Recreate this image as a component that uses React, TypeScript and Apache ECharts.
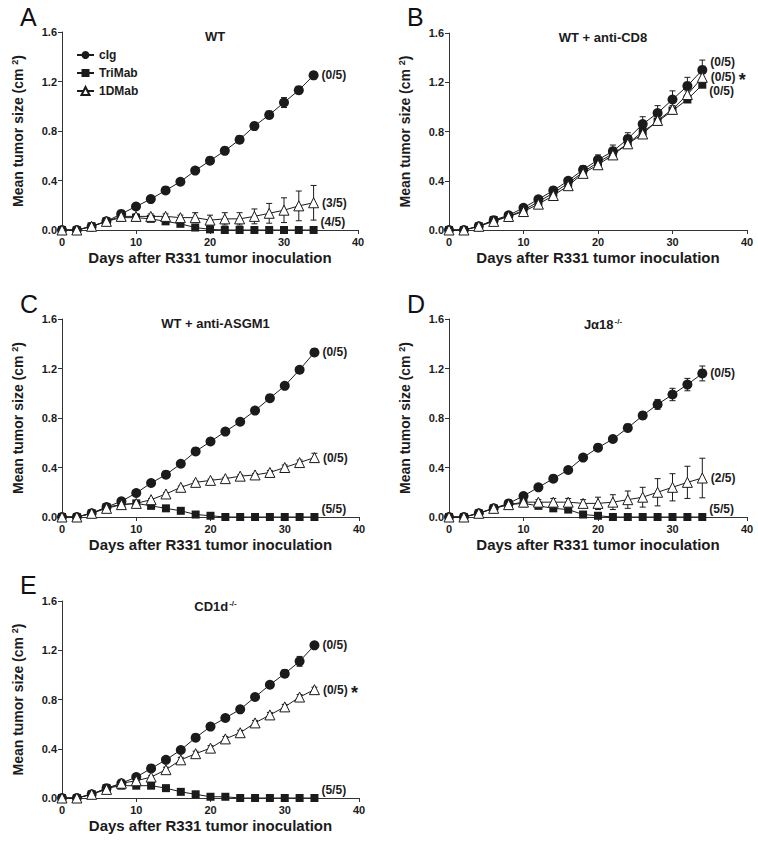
import React, { useEffect, useRef } from "react";
import * as echarts from "echarts";

const days = [0, 2, 4, 6, 8, 10, 12, 14, 16, 18, 20, 22, 24, 26, 28, 30, 32, 34];
const seriesNames = ["cIg", "TriMab", "1DMab"];
const panelLetters = ["A", "B", "C", "D", "E"];
const yTicks = [0, 0.4, 0.8, 1.2, 1.6];

// Panel A: WT
const aCig = [0, 0, 0.027, 0.07, 0.13, 0.19, 0.25, 0.32, 0.39, 0.48, 0.56, 0.64, 0.73, 0.84, 0.93, 1.03, 1.13, 1.25];
const aTri = [0, 0, 0.03, 0.07, 0.1, 0.1, 0.09, 0.07, 0.05, 0.02, 0.005, 0, 0, 0, 0, 0, 0, 0];
const aOne = [0, 0, 0.03, 0.07, 0.11, 0.11, 0.11, 0.11, 0.1, 0.1, 0.08, 0.09, 0.09, 0.11, 0.135, 0.16, 0.195, 0.22];
const aCigErr = [0, 0, 0.005, 0.01, 0.015, 0.015, 0.02, 0.02, 0.02, 0.02, 0.02, 0.03, 0.03, 0.03, 0.03, 0.04, 0.03, 0.03];
const aTriErr = [0, 0, 0.005, 0.01, 0.01, 0.01, 0.01, 0.01, 0.01, 0.01, 0.005, 0, 0, 0, 0, 0, 0, 0];
const aOneErr = [0, 0, 0.005, 0.01, 0.02, 0.02, 0.02, 0.02, 0.02, 0.04, 0.04, 0.05, 0.05, 0.06, 0.08, 0.1, 0.12, 0.14];

// Panel B: WT + anti-CD8
const bCig = [0, 0, 0.03, 0.08, 0.12, 0.18, 0.25, 0.32, 0.4, 0.49, 0.57, 0.64, 0.74, 0.86, 0.95, 1.06, 1.17, 1.3];
const bTri = [0, 0, 0.03, 0.08, 0.11, 0.16, 0.23, 0.3, 0.38, 0.47, 0.55, 0.62, 0.7, 0.8, 0.88, 0.97, 1.06, 1.18];
const bOne = [0, 0, 0.03, 0.07, 0.11, 0.15, 0.21, 0.28, 0.36, 0.46, 0.53, 0.61, 0.7, 0.78, 0.89, 0.98, 1.1, 1.24];
const bCigErr = [0, 0, 0.01, 0.01, 0.01, 0.02, 0.02, 0.03, 0.02, 0.03, 0.04, 0.05, 0.05, 0.06, 0.06, 0.07, 0.07, 0.08];
const bTriErr = [0, 0, 0.005, 0.01, 0.01, 0.01, 0.01, 0.01, 0.02, 0.02, 0.02, 0.02, 0.02, 0.02, 0.02, 0.02, 0.02, 0.02];
const bOneErr = [0, 0, 0.005, 0.01, 0.01, 0.01, 0.01, 0.02, 0.02, 0.02, 0.02, 0.02, 0.03, 0.03, 0.03, 0.03, 0.03, 0.03];

// Panel C: WT + anti-ASGM1
const cCig = [0, 0, 0.03, 0.08, 0.127, 0.194, 0.275, 0.342, 0.43, 0.53, 0.61, 0.69, 0.77, 0.86, 0.96, 1.06, 1.19, 1.33];
const cTri = [0, 0, 0.03, 0.08, 0.1, 0.11, 0.09, 0.07, 0.05, 0.02, 0.01, 0, 0, 0, 0, 0, 0, 0];
const cOne = [0, 0, 0.03, 0.07, 0.1, 0.11, 0.14, 0.186, 0.24, 0.28, 0.296, 0.31, 0.33, 0.34, 0.36, 0.4, 0.44, 0.48];
const cCigErr = [0, 0, 0.005, 0.01, 0.01, 0.01, 0.01, 0.01, 0.01, 0.01, 0.01, 0.01, 0.01, 0.01, 0.01, 0.015, 0.015, 0.015];
const cTriErr = [0, 0, 0.005, 0.01, 0.01, 0.01, 0.01, 0.01, 0.01, 0.005, 0.005, 0, 0, 0, 0, 0, 0, 0];
const cOneErr = [0, 0, 0.005, 0.01, 0.01, 0.01, 0.01, 0.01, 0.01, 0.01, 0.01, 0.01, 0.01, 0.01, 0.015, 0.02, 0.02, 0.035];

// Panel D: Jα18-/-
const dCig = [0, 0, 0.03, 0.07, 0.11, 0.17, 0.24, 0.31, 0.38, 0.48, 0.56, 0.63, 0.72, 0.82, 0.91, 0.99, 1.07, 1.16];
const dTri = [0, 0, 0.03, 0.07, 0.1, 0.11, 0.09, 0.07, 0.06, 0.02, 0.01, 0, 0, 0, 0, 0, 0, 0];
const dOne = [0, 0, 0.03, 0.07, 0.1, 0.12, 0.12, 0.12, 0.12, 0.11, 0.11, 0.12, 0.14, 0.16, 0.2, 0.24, 0.28, 0.315];
const dCigErr = [0, 0, 0.005, 0.01, 0.01, 0.02, 0.02, 0.02, 0.02, 0.02, 0.02, 0.02, 0.03, 0.03, 0.04, 0.05, 0.05, 0.06];
const dTriErr = [0, 0, 0.005, 0.01, 0.01, 0.01, 0.01, 0.01, 0.01, 0.01, 0.005, 0, 0, 0, 0, 0, 0, 0];
const dOneErr = [0, 0, 0.005, 0.01, 0.02, 0.02, 0.02, 0.03, 0.03, 0.03, 0.05, 0.06, 0.07, 0.08, 0.11, 0.11, 0.13, 0.16];

// Panel E: CD1d-/-
const eCig = [0, 0, 0.03, 0.08, 0.12, 0.17, 0.24, 0.31, 0.39, 0.49, 0.58, 0.65, 0.72, 0.82, 0.92, 1.01, 1.11, 1.24];
const eTri = [0, 0, 0.03, 0.08, 0.1, 0.1, 0.1, 0.08, 0.05, 0.03, 0.01, 0.01, 0, 0, 0, 0, 0, 0];
const eOne = [0, 0, 0.03, 0.07, 0.12, 0.14, 0.17, 0.23, 0.31, 0.36, 0.405, 0.48, 0.53, 0.61, 0.675, 0.74, 0.82, 0.88];
const eCigErr = [0, 0, 0.005, 0.01, 0.01, 0.01, 0.01, 0.01, 0.02, 0.02, 0.02, 0.02, 0.02, 0.02, 0.02, 0.03, 0.04, 0.02];
const eTriErr = [0, 0, 0.005, 0.01, 0.01, 0.01, 0.01, 0.01, 0.01, 0.01, 0.005, 0.005, 0, 0, 0, 0, 0, 0];
const eOneErr = [0, 0, 0.005, 0.01, 0.01, 0.01, 0.01, 0.02, 0.02, 0.02, 0.02, 0.02, 0.02, 0.02, 0.02, 0.02, 0.02, 0.02];

// end-of-curve survival annotations [cIg, TriMab, 1DMab]
const aNotes = ["(0/5)", "(4/5)", "(3/5)"];
const bNotes = ["(0/5)", "(0/5)", "(0/5) *"];
const cNotes = ["(0/5)", "(5/5)", "(0/5)"];
const dNotes = ["(0/5)", "(5/5)", "(2/5)"];
const eNotes = ["(0/5)", "(5/5)", "(0/5) *"];

const panelTitles = ["WT", "WT + anti-CD8", "WT + anti-ASGM1", "J\u03b118{sup|-/-}", "CD1d{sup|-/-}"];

const panelValues = [
  [aCig, aTri, aOne],
  [bCig, bTri, bOne],
  [cCig, cTri, cOne],
  [dCig, dTri, dOne],
  [eCig, eTri, eOne],
];
const panelErrs = [
  [aCigErr, aTriErr, aOneErr],
  [bCigErr, bTriErr, bOneErr],
  [cCigErr, cTriErr, cOneErr],
  [dCigErr, dTriErr, dOneErr],
  [eCigErr, eTriErr, eOneErr],
];
const panelNotes = [aNotes, bNotes, cNotes, dNotes, eNotes];

// layout (pixels)
const grids = [
  { left: 62, top: 32, width: 296, height: 198 },
  { left: 449, top: 33, width: 298, height: 197 },
  { left: 62, top: 319, width: 297, height: 198 },
  { left: 449, top: 319, width: 298, height: 198 },
  { left: 62, top: 601, width: 297, height: 197 },
];
const letterPos = [
  [20, 4],
  [407, 4],
  [20, 291],
  [407, 291],
  [20, 572],
];
const noteOffsets = [
  [[0, 0], [0, -8], [0, 0]],
  [[0, -8], [0, 6], [0, 0]],
  [[0, 0], [0, -8], [0, 0]],
  [[0, 0], [0, -8], [0, 0]],
  [[0, 0], [0, -8], [0, 0]],
];

const FONT = "'Liberation Sans', Arial, Helvetica, sans-serif";
const INK = "#1b1b1b";
const symbols = ["circle", "rect", "triangle"];
const symbolSizes = [10, 8, 10];

export default function App() {
  const ref = useRef<HTMLDivElement>(null);

  useEffect(() => {
    if (!ref.current) return;
    const chart = echarts.init(ref.current, undefined, { renderer: "svg" });

    const xAxes: any[] = [];
    const yAxes: any[] = [];
    const series: any[] = [];
    const titles: any[] = [];

    grids.forEach((g, p) => {
      xAxes.push({
        gridIndex: p,
        type: "value",
        min: 0,
        max: 40,
        interval: 10,
        name: "Days after R331 tumor inoculation",
        nameLocation: "middle",
        nameGap: 20,
        nameTextStyle: { fontFamily: FONT, fontWeight: "bold", fontSize: 15, color: INK },
        axisLine: { show: true, lineStyle: { color: "#333", width: 1 } },
        axisTick: { show: true, length: 4, lineStyle: { color: "#333" } },
        axisLabel: { fontFamily: FONT, fontWeight: "bold", fontSize: 11, color: INK, margin: 6 },
        splitLine: { show: false },
      });
      yAxes.push({
        gridIndex: p,
        type: "value",
        min: 0,
        max: 1.6,
        interval: 0.4,
        name: "Mean tumor size (cm {sup|2})",
        nameLocation: "middle",
        nameGap: 37,
        nameRotate: 90,
        nameTextStyle: {
          fontFamily: FONT,
          fontWeight: "bold",
          fontSize: 14,
          color: INK,
          rich: {
            sup: { fontFamily: FONT, fontWeight: "bold", fontSize: 9, color: INK, verticalAlign: "top", padding: [0, 0, 6, 0] },
          },
        },
        axisLine: { show: true, lineStyle: { color: "#333", width: 1 } },
        axisTick: { show: true, length: 4, lineStyle: { color: "#333" } },
        axisLabel: {
          fontFamily: FONT,
          fontWeight: "bold",
          fontSize: 11,
          color: INK,
          margin: 5,
          formatter: (v: number) => (yTicks.some((t) => Math.abs(t - v) < 1e-9) ? v.toFixed(1) : ""),
        },
        splitLine: { show: false },
      });
      titles.push({
        text: panelTitles[p],
        left: g.left + g.width / 2,
        top: g.top - 7,
        textAlign: "center",
        textStyle: {
          fontFamily: FONT,
          fontWeight: "bold",
          fontSize: 13,
          color: INK,
          rich: {
            sup: { fontFamily: FONT, fontWeight: "bold", fontSize: 8, color: INK, verticalAlign: "top", padding: [0, 0, 6, 1] },
          },
        },
      });

      seriesNames.forEach((name, s) => {
        const vals = panelValues[p][s];
        const errs = panelErrs[p][s];
        const note = panelNotes[p][s];
        const hasStar = note.indexOf("*") >= 0;
        const noteText = hasStar ? note.replace(" *", "") + " {star|*}" : note;
        series.push({
          type: "custom",
          name: name + " error",
          xAxisIndex: p,
          yAxisIndex: p,
          z: 2,
          silent: true,
          encode: { x: 0, y: 1 },
          data: days.map((d, j) => [d, vals[j], errs[j]]),
          renderItem: (_params: any, api: any) => {
            const x = api.value(0);
            const y = api.value(1);
            const e = api.value(2);
            if (!e) return null;
            const top = api.coord([x, y + e]);
            const bot = api.coord([x, y - e]);
            const c = 3;
            const st = { stroke: INK, lineWidth: 1 };
            return {
              type: "group",
              children: [
                { type: "line", shape: { x1: top[0], y1: top[1], x2: bot[0], y2: bot[1] }, style: st },
                { type: "line", shape: { x1: top[0] - c, y1: top[1], x2: top[0] + c, y2: top[1] }, style: st },
                { type: "line", shape: { x1: bot[0] - c, y1: bot[1], x2: bot[0] + c, y2: bot[1] }, style: st },
              ],
            };
          },
        });
        series.push({
          type: "line",
          name,
          xAxisIndex: p,
          yAxisIndex: p,
          z: 3,
          symbol: symbols[s],
          symbolSize: symbolSizes[s],
          showAllSymbol: true,
          lineStyle: { color: INK, width: 1 },
          itemStyle: s === 2 ? { color: "#fff", borderColor: INK, borderWidth: 1 } : { color: INK, borderColor: INK, borderWidth: 0 },
          label: { show: false },
          data: days.map((d, j) =>
            j === days.length - 1
              ? {
                  value: [d, vals[j]],
                  label: {
                    show: true,
                    position: "right",
                    distance: 3,
                    offset: noteOffsets[p][s],
                    formatter: noteText,
                    fontFamily: FONT,
                    fontWeight: "bold",
                    fontSize: 12,
                    color: INK,
                    rich: {
                      star: { fontFamily: FONT, fontWeight: "bold", fontSize: 18, color: INK, padding: [6, 0, 0, 0] },
                    },
                  },
                }
              : [d, vals[j]]
          ),
        });
      });
    });

    chart.setOption({
      animation: false,
      backgroundColor: "#fff",
      title: titles,
      grid: grids.map((g) => ({ ...g, containLabel: false })),
      xAxis: xAxes,
      yAxis: yAxes,
      legend: {
        data: seriesNames,
        orient: "vertical",
        left: 71,
        top: 44,
        itemWidth: 17,
        itemHeight: 10,
        itemGap: 6,
        selectedMode: false,
        textStyle: { fontFamily: FONT, fontWeight: "bold", fontSize: 12, color: INK },
      },
      graphic: panelLetters.map((L, i) => ({
        type: "text",
        left: letterPos[i][0],
        top: letterPos[i][1],
        style: { text: L, fontFamily: FONT, fontSize: 25, fontWeight: "normal", fill: "#111" },
      })),
      series,
    });

    return () => chart.dispose();
  }, []);

  return (
    <div
      ref={ref}
      style={{ position: "fixed", left: 0, top: 0, width: 758, height: 841, background: "#fff" }}
    />
  );
}
